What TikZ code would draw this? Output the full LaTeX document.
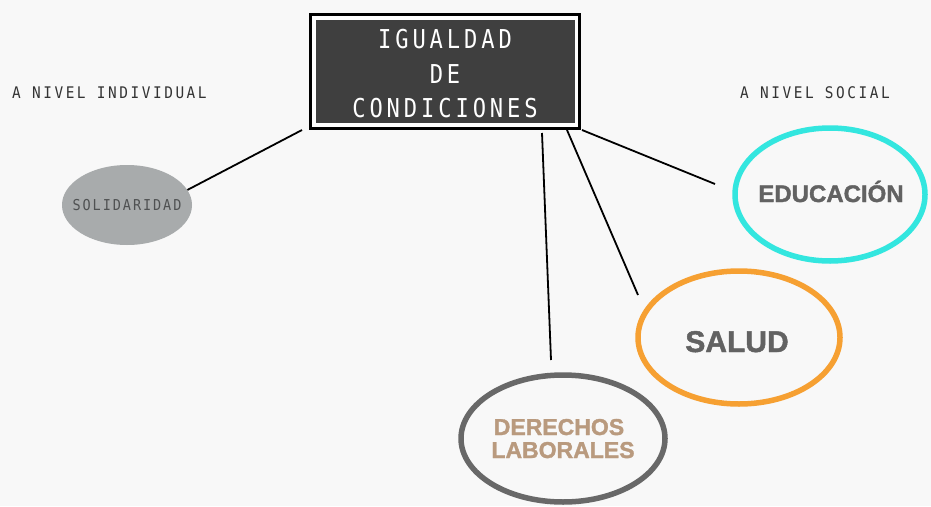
\documentclass[tikz,border=0pt]{standalone}
\usepackage{fontspec}
\usetikzlibrary{shapes.geometric}
\setmainfont{Liberation Sans}
\newfontfamily\titlemono[FakeStretch=0.85,LetterSpace=15]{DejaVu Sans Mono}
\newfontfamily\smallmono[FakeStretch=0.9,LetterSpace=16]{DejaVu Sans Mono}
\newfontfamily\solmono[FakeStretch=0.9,LetterSpace=13]{DejaVu Sans Mono}
\newfontfamily\heavysans[UprightFont={* Bold},FakeBold=1.5]{Liberation Sans}
\definecolor{bg}{HTML}{F8F8F8}
\definecolor{darkbox}{HTML}{3F3F3F}
\definecolor{solfill}{HTML}{A8ABAC}
\definecolor{soltext}{HTML}{4F5152}
\definecolor{educyan}{HTML}{33E6DF}
\definecolor{saludorange}{HTML}{F6A032}
\definecolor{dergray}{HTML}{686868}
\definecolor{tan}{HTML}{B99A7E}
\definecolor{bigtext}{HTML}{626262}
\definecolor{labeltext}{HTML}{333333}
\tikzset{
  conn/.style={draw=black, line width=1.8pt},
  ring/.style={ellipse, draw, line width=5.5pt, inner sep=0pt, fill=none},
  titletext/.style={text=white, font=\titlemono\fontsize{26}{26}\selectfont, anchor=base, inner sep=0pt},
  sidelabel/.style={text=labeltext, font=\smallmono\fontsize{16}{16}\selectfont, anchor=base west, inner sep=0pt},
  bigword/.style={text=bigtext, font=\heavysans\fontsize{24}{24}\selectfont, anchor=base, inner sep=0pt},
}
\begin{document}
\begin{tikzpicture}[x=1pt,y=-1pt]
\fill[bg] (0,0) rectangle (931,506);
\useasboundingbox (0,0) rectangle (931,506);

% title box
\node[draw=black, line width=3pt, fill=white, minimum width=269pt, minimum height=114pt, inner sep=0pt] (titlebox) at (445,71.5) {};
\node[fill=darkbox, minimum width=259pt, minimum height=103pt, inner sep=0pt] (titlein) at (445.5,71.5) {};
\node[titletext] (t1) at (445,48) {IGUALDAD};
\node[titletext] (t2) at (445,83) {DE};
\node[titletext] (t3) at (445,117) {CONDICIONES};

% side labels
\node[sidelabel] (lind) at (12,98) {A NIVEL INDIVIDUAL};
\node[sidelabel] (lsoc) at (740,98) {A NIVEL SOCIAL};

% solidaridad
\node[ellipse, fill=solfill, minimum width=130pt, minimum height=80pt, inner sep=0pt] (sol) at (127,205) {};
\node[text=soltext, font=\solmono\fontsize{15}{15}\selectfont, anchor=base, inner sep=0pt] (soltext) at (127,210) {SOLIDARIDAD};

% educacion
\node[ring, draw=educyan, minimum width=190pt, minimum height=133pt] (edu) at (830,194.5) {};
\node[bigword] (edutext) at (831,202) {EDUCACIÓN};

% salud
\node[ring, draw=saludorange, minimum width=202pt, minimum height=133pt] (salud) at (739,337.5) {};
\node[bigword, font=\heavysans\fontsize{30}{30}\selectfont] (saludtext) at (737,352) {SALUD};

% derechos laborales
\node[ring, draw=dergray, minimum width=204pt, minimum height=127pt] (der) at (563,438.5) {};
\node[bigword, text=tan, font=\heavysans\fontsize{23}{23}\selectfont] (dertext1) at (559,435) {DERECHOS};
\node[bigword, text=tan, font=\heavysans\fontsize{23}{23}\selectfont] (dertext2) at (563,458) {LABORALES};

% connector free ends
\coordinate (boxL) at (302,130);
\coordinate (boxR1) at (582,130);
\coordinate (boxR2) at (567,130);
\coordinate (boxR3) at (542,133);
\coordinate (eduend) at (715,184);
\coordinate (saludend) at (638,295);
\coordinate (derend) at (551,360);

\draw[conn] (sol.14) -- (boxL);
\draw[conn] (boxR1) -- (eduend);
\draw[conn] (boxR2) -- (saludend);
\draw[conn] (boxR3) -- (derend);
\end{tikzpicture}
\end{document}
